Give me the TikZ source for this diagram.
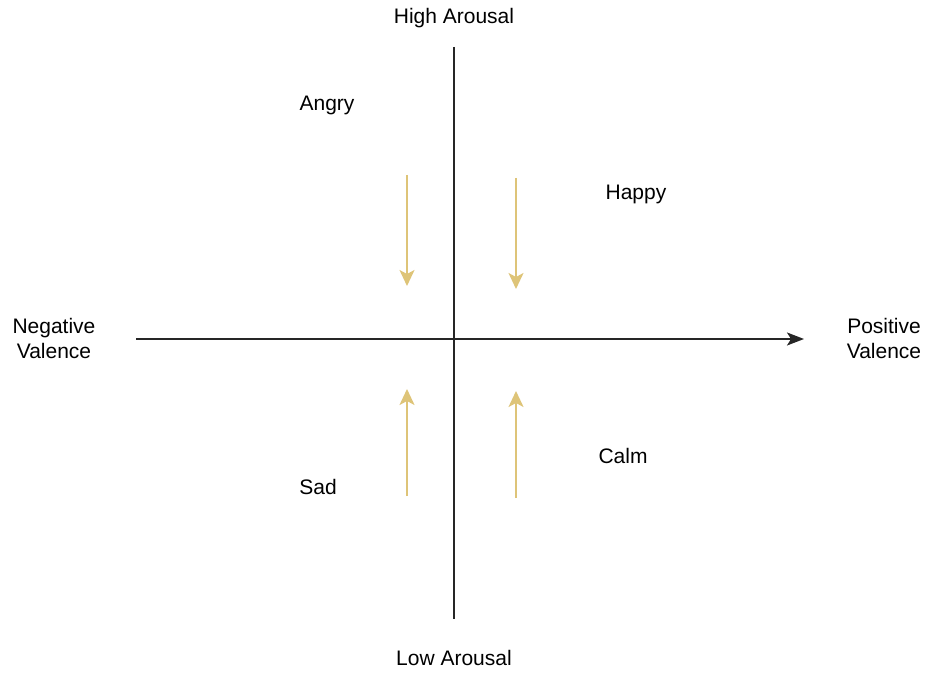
\documentclass[tikz,border=0pt]{standalone}
\usepackage{fontspec}
\setmainfont{Liberation Sans}
\usetikzlibrary{arrows.meta}
\definecolor{moodgold}{RGB}{222,196,120}
\begin{document}
\begin{tikzpicture}[x=0.5pt,y=-0.5pt,
    every node/.style={font=\fontsize{10.5}{12.5}\selectfont, align=center},
    axis/.style={line width=0.9pt, black!85},
    moodarrow/.style={line width=0.9pt, moodgold, -{Stealth[length=8pt,width=7.5pt,inset=2pt]}}]
        \useasboundingbox (0,0) rectangle (930,673);
        % axes
        \coordinate (left) at (136,339);
        \coordinate (right) at (804,339);
        \coordinate (top) at (454,47);
        \coordinate (bottom) at (454,619);
        \draw[axis, -{Stealth[length=8.5pt,width=6.5pt,inset=2pt]}] (left) -- (right);
        \draw[axis] (top) -- (bottom);
        \node (high) at (454,18) {High Arousal};
        \node (low) at (454,658) {Low Arousal};
        \node (neg) at (54,338) {Negative\\Valence};
        \node (pos) at (884,338) {Positive\\Valence};
        % emotions
        \node (angry) at (327,105) {Angry};
        \node (happy) at (636,194) {Happy};
        \node (sad) at (318,487) {Sad};
        \node (calm) at (623,456) {Calm};
        % arrows towards the centre
        \coordinate (a1) at (407,175); \coordinate (a2) at (407,286);
        \coordinate (h1) at (516,178); \coordinate (h2) at (516,289);
        \coordinate (s1) at (407,496); \coordinate (s2) at (407,389);
        \coordinate (c1) at (516,498); \coordinate (c2) at (516,391);
        \draw[moodarrow] (a1) -- (a2);
        \draw[moodarrow] (h1) -- (h2);
        \draw[moodarrow] (s1) -- (s2);
        \draw[moodarrow] (c1) -- (c2);
    \end{tikzpicture}
\end{document}
